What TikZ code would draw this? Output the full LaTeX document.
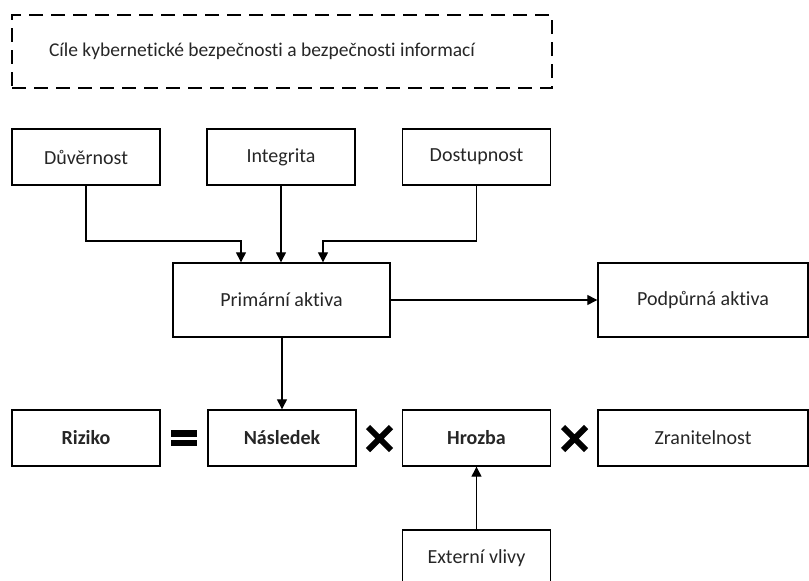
\documentclass[tikz,border=0pt]{standalone}
\usepackage{fontspec}
\setmainfont{Carlito}[Ligatures=NoCommon]
\usetikzlibrary{arrows.meta}
\begin{document}
\begin{tikzpicture}[x=1pt,y=-1pt,
  box/.style={draw, line width=1.4pt, rectangle, minimum width=148pt, minimum height=56pt,
    inner sep=0pt, font=\fontsize{20}{24}\selectfont, text=black!85},
  bold/.style={font=\fontsize{20}{24}\selectfont\bfseries},
  goalbox/.style={draw, line width=1.5pt, dash pattern=on 14pt off 8pt, rectangle,
    minimum width=540pt, minimum height=73pt, inner sep=0pt,
    font=\fontsize{19.5}{24}\selectfont, text=black!85},
  arr/.style={line width=1.3pt, -{Triangle[length=10pt,width=10pt]}},
  opsym/.style={line width=6pt, line cap=butt}]
\useasboundingbox (0,0) rectangle (809,581);
\clip (0,0) rectangle (809,581);

% goal frame (caption sits a little left of centre)
\node[goalbox] (goal) at (282,51.5) {Cíle kybernetické bezpečnosti a bezpečnosti informací\hspace*{40pt}};

% security objectives
\node[box] (duv) at (86,157) {Důvěrnost};
\node[box] (integ) at (281,157) {Integrita};
\node[box] (dost) at (476.5,157) {Dostupnost};

% assets
\node[box, minimum width=217pt, minimum height=74pt] (prim) at (281.5,300) {Primární aktiva};
\node[box, minimum width=210pt, minimum height=74pt] (podp) at (703,300) {Podpůrná aktiva};

% risk equation
\node[box, bold] (riz) at (86,438) {Riziko};
\node[box, bold] (nasl) at (282,438) {Následek};
\node[box, bold] (hroz) at (476.5,438) {Hrozba};
\node[box, minimum width=210pt] (zran) at (703,438) {Zranitelnost};
\node[box] (ext) at (476.5,558) {Externí vlivy};

% connectors
\coordinate (j1) at (241,241);
\coordinate (j2) at (323,241);
\draw[arr] (duv.south) |- (j1) -- (j1 |- prim.north);
\draw[arr] (integ.south) -- (integ.south |- prim.north);
\draw[arr] (dost.south) |- (j2) -- (j2 |- prim.north);
\draw[arr] (prim.east) -- (podp.west);
\draw[arr] (prim.south -| nasl.north) -- (nasl.north);
\draw[arr] (ext.north) -- (hroz.south);

% operators
\fill (171,430) rectangle (197,436.5);
\fill (171,439.5) rectangle (197,446);
\draw[opsym] (368,427) -- (391,450) (368,450) -- (391,427);
\draw[opsym] (563,427) -- (586,450) (563,450) -- (586,427);
\end{tikzpicture}
\end{document}
